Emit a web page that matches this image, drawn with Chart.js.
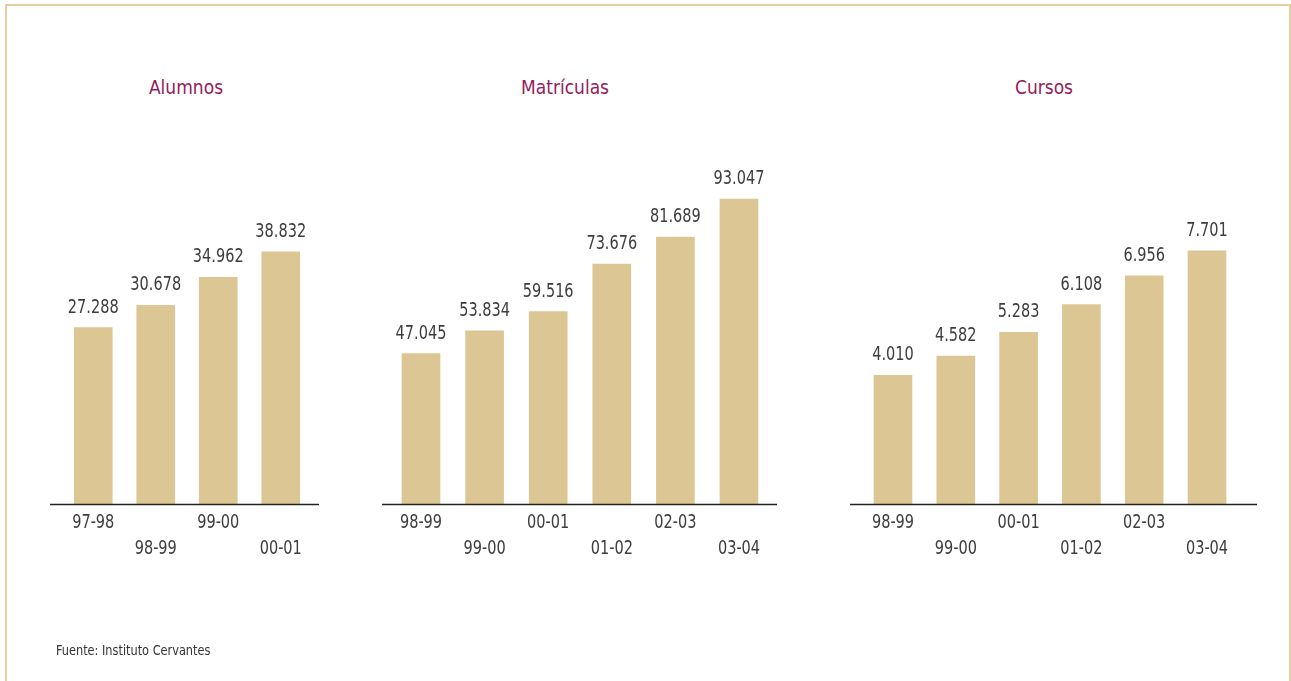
<!DOCTYPE html>
<html>
<head>
<meta charset="utf-8">
<script src="https://cdn.jsdelivr.net/npm/chart.js"></script>
<style>
  body { margin: 0; width: 1291px; height: 681px; overflow: hidden; background: #fff; position: relative;
         font-family: 'Liberation Sans Narrow', 'DejaVu Sans Condensed', 'Arial Narrow', sans-serif; }
  .frame { position: absolute; left: 5px; top: 4px; width: 1282px; height: 720px;
           border: 2px solid #e3d09c; border-bottom: none; }
  canvas { position: absolute; top: 0; }
  .title { position: absolute; top: 76px; transform: translateX(-50%); color: #94205b; font-size: 19px; white-space: nowrap; }
  .source { position: absolute; left: 56px; top: 642px; color: #333; font-size: 14px;
            transform: scaleX(0.9); transform-origin: left top; white-space: nowrap; }
</style>
</head>
<body>
<div class="frame"></div>
<div class="title" style="left:186px">Alumnos</div>
<div class="title" style="left:565px">Matrículas</div>
<div class="title" style="left:1044px">Cursos</div>
<canvas id="c1" width="360" height="681" style="left:0px"></canvas>
<canvas id="c2" width="440" height="681" style="left:360px"></canvas>
<canvas id="c3" width="491" height="681" style="left:800px"></canvas>
<div class="source">Fuente: Instituto Cervantes</div>
<script>
// datos
var alumnosCursos = ['97-98', '98-99', '99-00', '00-01'];
var alumnos = [27288, 30678, 34962, 38832];

var matriculasCursos = ['98-99', '99-00', '00-01', '01-02', '02-03', '03-04'];
var matriculas = [47045, 53834, 59516, 73676, 81689, 93047];

var cursosCursos = ['98-99', '99-00', '00-01', '01-02', '02-03', '03-04'];
var cursos = [4010, 4582, 5283, 6108, 6956, 7701];

var fuente = "'Liberation Sans Narrow', 'DejaVu Sans Condensed', 'Arial Narrow', sans-serif";
var colorBarra = '#dcc794';
var colorTexto = '#3d3d3d';
var estrechar = 0.85; // la fuente original es condensada

const formatear = v => String(v).replace(/\B(?=(\d{3})+(?!\d))/g, '.');

function textoEstrecho(ctx, txt, x, y) {
    ctx.save();
    ctx.translate(x, y);
    ctx.scale(estrechar, 1);
    ctx.fillText(txt, 0, 0);
    ctx.restore();
}

// etiquetas encima de las barras, etiquetas del eje y linea del eje
const etiquetas = {
    id: 'etiquetas',
    afterDatasetsDraw(chart, args, opts) {
        const ctx = chart.ctx;
        const area = chart.chartArea;
        ctx.save();
        ctx.strokeStyle = '#222';
        ctx.lineWidth = 1.5;
        ctx.beginPath();
        ctx.moveTo(area.left - opts.extIzq, area.bottom + 0.5);
        ctx.lineTo(area.right + opts.extDer, area.bottom + 0.5);
        ctx.stroke();

        ctx.fillStyle = colorTexto;
        ctx.font = '19px ' + fuente;
        ctx.textAlign = 'center';
        ctx.textBaseline = 'alphabetic';
        const meta = chart.getDatasetMeta(0);
        meta.data.forEach((bar, i) => {
            textoEstrecho(ctx, formatear(chart.data.datasets[0].data[i]), bar.x, bar.y - 15);
        });

        const xs = chart.scales.x;
        xs.ticks.forEach((t, i) => {
            textoEstrecho(ctx, chart.data.labels[i], xs.getPixelForTick(i), area.bottom + 24 + (i % 2) * 26);
        });
        ctx.restore();
    }
};

function crearGrafico(id, labels, valores, minY, maxY, padIzq, padDer, extIzq, extDer) {
    return new Chart(document.getElementById(id).getContext('2d'), {
        type: 'bar',
        data: {
            labels: labels,
            datasets: [{
                data: valores,
                base: minY,
                backgroundColor: colorBarra,
                barThickness: 38
            }]
        },
        options: {
            responsive: false,
            animation: false,
            layout: { padding: { top: 100, bottom: 109, left: padIzq, right: padDer } },
            plugins: {
                legend: { display: false },
                tooltip: { enabled: false },
                etiquetas: { extIzq: extIzq, extDer: extDer }
            },
            scales: {
                x: {
                    grid: { display: false },
                    border: { display: false },
                    ticks: {
                        autoSkip: false,
                        maxRotation: 0,
                        padding: 4,
                        color: 'rgba(0,0,0,0)', // se dibujan en el plugin, mas estrechas
                        font: { family: fuente, size: 19, lineHeight: 26 / 19 },
                        callback: function (v, i) {
                            const t = this.getLabelForValue(v);
                            return i % 2 ? ['', t] : t;
                        }
                    }
                },
                y: { display: false, min: minY, max: maxY }
            }
        },
        plugins: [etiquetas]
    });
}

crearGrafico('c1', alumnosCursos, alumnos, 411, 61967, 62, 48, 12, 7);
crearGrafico('c2', matriculasCursos, matriculas, 2248, 122518, 29.2, 29.2, 7.2, 6.2);
crearGrafico('c3', cursosCursos, cursos, 201, 12164, 61.6, 52.6, 11.6, 18.6);
</script>
</body>
</html>
